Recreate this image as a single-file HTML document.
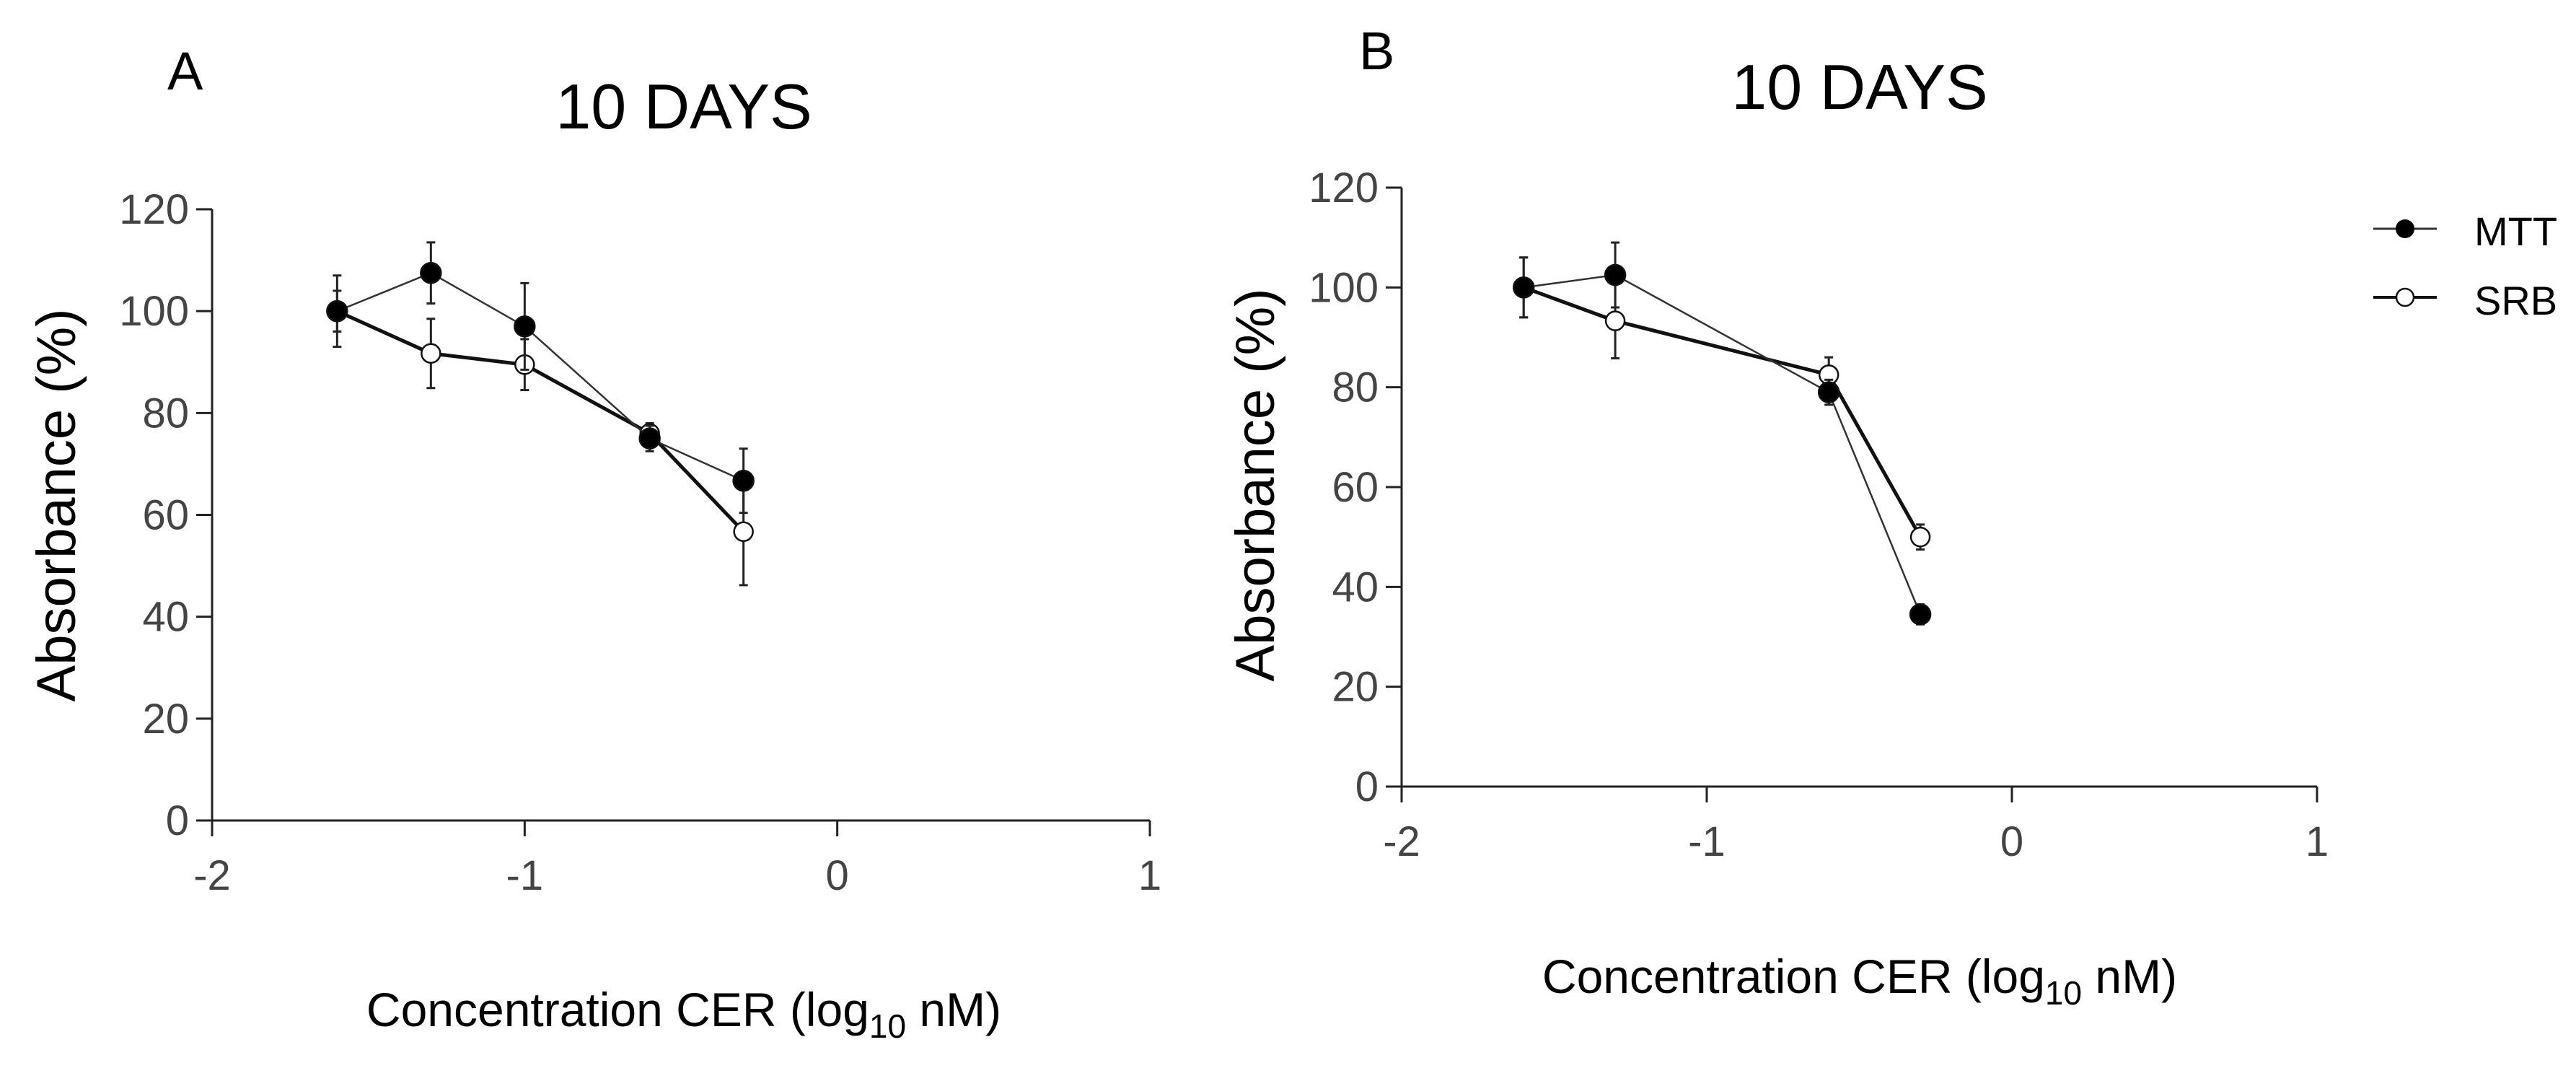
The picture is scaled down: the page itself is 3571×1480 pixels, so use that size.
<!DOCTYPE html>
<html><head><meta charset="utf-8"><style>
html,body{margin:0;padding:0;background:#fff;}
svg{display:block;font-family:"Liberation Sans",sans-serif;}
</style></head><body>
<svg id="fig" width="3571" height="1480" viewBox="0 0 3571 1480"></svg>
<script>
// Panel A data
const xA = [-1.6, -1.3, -1.0, -0.6, -0.3];
const mttA = [100, 107.5, 97, 75, 66.7];
const mttErrA = [7, 6, 8.5, 2.5, 6.3];
const srbA = [100, 91.7, 89.5, 76, 56.7];
const srbErrA = [4, 6.8, 5, 2, 10.5];
// Panel B data
const xB = [-1.6, -1.3, -0.6, -0.3];
const mttB = [100, 102.5, 79, 34.5];
const mttErrB = [6, 6.5, 2.5, 2];
const srbB = [100, 93.3, 82.5, 50];
const srbErrB = [6, 7.5, 3.5, 2.5];
// Axis ticks
const xTicks = [-2, -1, 0, 1];
const yTicks = [0, 20, 40, 60, 80, 100, 120];

const NS = "http://www.w3.org/2000/svg";
const svg = document.getElementById('fig');
function mk(tag, attrs, parent, text) {
  const e = document.createElementNS(NS, tag);
  for (const k in attrs) e.setAttribute(k, attrs[k]);
  if (text !== undefined) e.textContent = text;
  (parent || svg).appendChild(e);
  return e;
}

function panel(cfg) {
  const g = mk('g', {});
  
  
  const sx = v => cfg.x0 + (v - (-2)) / 3 * (cfg.x1 - cfg.x0);
  const sy = v => cfg.y0 - v / 120 * (cfg.y0 - cfg.y1);
  const ya = mk('line', {x1: cfg.x0, y1: sy(120), x2: cfg.x0, y2: cfg.y0 + 22, stroke: '#222', 'stroke-width': 3}, g);
  
  
  const xa = mk('line', {x1: cfg.x0 - 22, y1: cfg.y0, x2: cfg.x1, y2: cfg.y0, stroke: '#222', 'stroke-width': 3}, g);
  
  
  yTicks.forEach(t => {
    mk('line', {x1: cfg.x0 - 22, y1: sy(t), x2: cfg.x0, y2: sy(t), stroke: '#222', 'stroke-width': 3}, g);
    const tl = mk('text', {x: cfg.x0 - 32, y: sy(t) + 20, 'text-anchor': 'end', 'font-size': 58, fill: '#444'}, g, String(t));
    
    
  });
  xTicks.forEach(t => {
    mk('line', {x1: sx(t), y1: cfg.y0, x2: sx(t), y2: cfg.y0 + 22, stroke: '#222', 'stroke-width': 3}, g);
    const tl = mk('text', {x: sx(t), y: cfg.y0 + 96, 'text-anchor': 'middle', 'font-size': 58, fill: '#444'}, g, String(t));
    
    
  });
  function series(xs, ys, es, filled, lw, nm) {
    const sg = mk('g', {}, g);
    
    
    const pts = xs.map((x, i) => sx(x) + ',' + sy(ys[i])).join(' ');
    mk('polyline', {points: pts, fill: 'none', stroke: filled ? '#333' : '#111', 'stroke-width': lw}, sg);
    xs.forEach((x, i) => {
      const cx = sx(x), t = sy(ys[i] + es[i]), b = sy(ys[i] - es[i]);
      mk('line', {x1: cx, y1: t, x2: cx, y2: b, stroke: '#222', 'stroke-width': 3}, sg);
      mk('line', {x1: cx - 6, y1: t, x2: cx + 6, y2: t, stroke: '#222', 'stroke-width': 3}, sg);
      mk('line', {x1: cx - 6, y1: b, x2: cx + 6, y2: b, stroke: '#222', 'stroke-width': 3}, sg);
    });
    xs.forEach((x, i) => {
      const c = mk('circle', {cx: sx(x), cy: sy(ys[i]), r: filled ? 14 : 13, fill: filled ? '#000' : '#fff', stroke: '#111', 'stroke-width': 2.5}, sg);
      
      
    });
  }
  series(cfg.xs, cfg.srb, cfg.srbE, false, 5, 'srb-series');
  series(cfg.xs, cfg.mtt, cfg.mttE, true, 2.5, 'mtt-series');
  const pl = mk('text', {x: cfg.lx, y: cfg.ly, 'font-size': 74, fill: '#000'}, g, cfg.letter);
  
  
  const ti = mk('text', {x: cfg.tx, y: cfg.ty, 'text-anchor': 'middle', 'font-size': 88, fill: '#000'}, g, '10 DAYS');
  
  
  const yl = mk('text', {x: 0, y: 0, 'text-anchor': 'middle', 'font-size': 76, fill: '#000', transform: `translate(${cfg.ylx},${cfg.yly}) rotate(-90)`}, g, 'Absorbance (%)');
  
  
  const xl = mk('text', {x: cfg.tx, y: cfg.xly, 'text-anchor': 'middle', 'font-size': 66, fill: '#000'}, g);
  
  
  mk('tspan', {}, xl, 'Concentration CER (log');
  mk('tspan', {'font-size': 46, dy: 16}, xl, '10');
  mk('tspan', {dy: -16}, xl, ' nM)');
}

panel({name: 'panel-a', x0: 294, x1: 1594, y0: 1137, y1: 290, xs: xA, mtt: mttA, mttE: mttErrA, srb: srbA, srbE: srbErrA,
  letter: 'A', lx: 232, ly: 124, tx: 948, ty: 178, ylx: 104, yly: 700, xly: 1422});
panel({name: 'panel-b', x0: 1943, x1: 3212, y0: 1090, y1: 260, xs: xB, mtt: mttB, mttE: mttErrB, srb: srbB, srbE: srbErrB,
  letter: 'B', lx: 1884, ly: 96, tx: 2578, ty: 151, ylx: 1766, yly: 672, xly: 1376});

const lg = mk('g', {});


const e1 = mk('g', {}, lg);


mk('line', {x1: 3290, y1: 317, x2: 3378, y2: 317, stroke: '#333', 'stroke-width': 3}, e1);
mk('circle', {cx: 3334, cy: 317, r: 13, fill: '#000'}, e1);
mk('text', {x: 3430, y: 340, 'font-size': 56, fill: '#000'}, e1, 'MTT');
const e2 = mk('g', {}, lg);


mk('line', {x1: 3290, y1: 412, x2: 3378, y2: 412, stroke: '#111', 'stroke-width': 4}, e2);
mk('circle', {cx: 3334, cy: 412, r: 12, fill: '#fff', stroke: '#111', 'stroke-width': 2.5}, e2);
mk('text', {x: 3430, y: 436, 'font-size': 56, fill: '#000'}, e2, 'SRB');
</script>
</body></html>
